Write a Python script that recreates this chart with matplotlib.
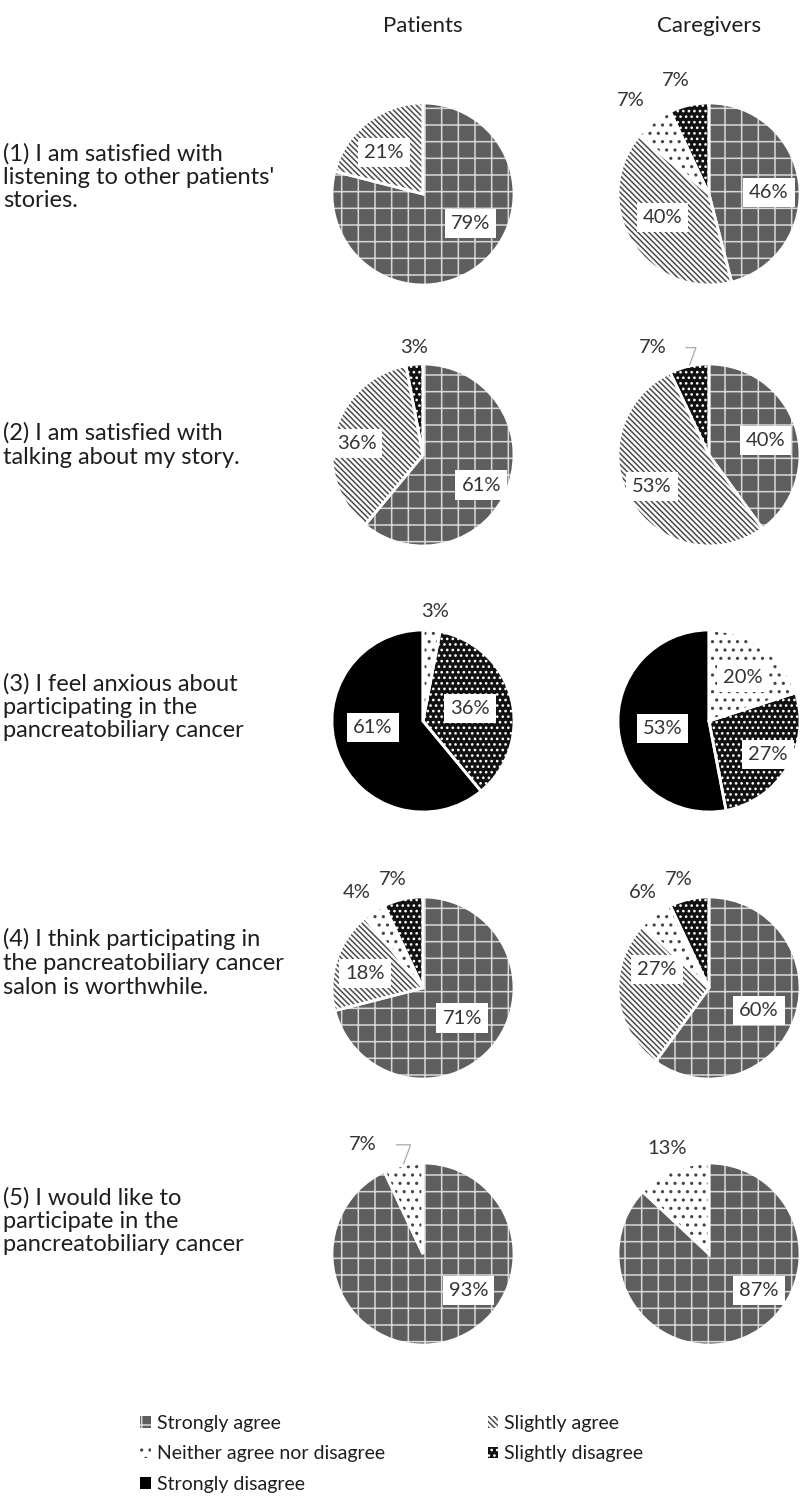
import matplotlib
matplotlib.use("Agg")
import matplotlib.pyplot as plt
import numpy as np
from matplotlib.patches import Patch

plt.rcParams["font.family"] = ["Lato", "DejaVu Sans"]
plt.rcParams["hatch.linewidth"] = 1.1

# survey answers, percent of respondents
categories = ["Strongly agree", "Slightly agree", "Neither agree nor disagree",
              "Slightly disagree", "Strongly disagree"]
questions = [
    "(1) I am satisfied with\nlistening to other patients'\nstories.",
    "(2) I am satisfied with\ntalking about my story.",
    "(3) I feel anxious about\nparticipating in the\npancreatobiliary cancer",
    "(4) I think participating in\nthe pancreatobiliary cancer\nsalon is worthwhile.",
    "(5) I would like to\nparticipate in the\npancreatobiliary cancer",
]
groups = ["Patients", "Caregivers"]
patients = [
    [79, 21, 0, 0, 0],
    [61, 36, 0, 3, 0],
    [0, 0, 3, 36, 61],
    [71, 18, 4, 7, 0],
    [93, 0, 7, 0, 0],
]
caregivers = [
    [46, 40, 7, 7, 0],
    [40, 53, 0, 7, 0],
    [0, 0, 20, 27, 53],
    [60, 27, 6, 7, 0],
    [87, 0, 13, 0, 0],
]

# look of each answer: face colour, hatch, hatch colour
styles = [
    ("#5e5e5e", "+", "#d8d8d8"),
    ("white", "\\\\\\\\\\\\", "#4a4a4a"),
    ("white", "..", "#444444"),
    ("#111111", "...", "white"),
    ("black", "", "black"),
]

# where the percent labels sit, in pie radii from the centre (non-zero slices in order)
label_pos = {
    (0, 0): [(0.52, -0.32), (-0.43, 0.46)],
    (0, 1): [(0.66, 0.02), (-0.51, -0.26), (-0.86, 1.03), (-0.36, 1.25)],
    (1, 0): [(0.64, -0.33), (-0.73, 0.13), (-0.1, 1.18)],
    (1, 1): [(0.62, 0.16), (-0.63, -0.35), (-0.62, 1.18)],
    (2, 0): [(0.13, 1.2), (0.52, 0.14), (-0.55, -0.07)],
    (2, 1): [(0.37, 0.48), (0.65, -0.37), (-0.51, -0.08)],
    (3, 0): [(0.43, -0.33), (-0.64, 0.16), (-0.73, 1.05), (-0.33, 1.19)],
    (3, 1): [(0.55, -0.25), (-0.57, 0.2), (-0.73, 1.05), (-0.33, 1.19)],
    (4, 0): [(0.5, -0.4), (-0.66, 1.2)],
    (4, 1): [(0.55, -0.4), (-0.46, 1.16)],
}
leaders = {(1, 1): 2, (4, 0): 1}

W, H = 801, 1504
R = 91
row_y = [194, 455, 721, 988, 1254]
text_y = [177, 445, 707, 963, 1221]
col_x = [423, 709]
HALF = 140
TXT = "#1e1e1e"

fig = plt.figure(figsize=(W / 100, H / 100), dpi=100)


def add_px_axes(cx, cy, half):
    return fig.add_axes([(cx - half) / W, 1 - (cy + half) / H, 2 * half / W, 2 * half / H])


def draw_pie(ax, values, row, col):
    idx = [i for i, v in enumerate(values) if v > 0]
    vals = [values[i] for i in idx]
    wedges, _ = ax.pie(vals, startangle=90, counterclock=False, radius=1)
    for w, i in zip(wedges, idx):
        face, hatch, hcol = styles[i]
        w.set_facecolor(face)
        w.set_edgecolor(hcol)
        w.set_hatch(hatch)
        w.set_linewidth(0)
    # white separators between slices
    ax.pie(vals, startangle=90, counterclock=False, radius=1,
           wedgeprops=dict(facecolor="none", edgecolor="white", linewidth=2))
    for k, (v, (x, y)) in enumerate(zip(vals, label_pos[(row, col)])):
        txt = f"{v}%"
        if v >= 10:
            ax.text(x, y, txt, ha="center", va="center", fontsize=14.5, color="#333333",
                    bbox=dict(boxstyle="square,pad=0.3", fc="white", ec="none"))
        elif leaders.get((row, col)) == k:
            w = wedges[k]
            mid = np.deg2rad((w.theta1 + w.theta2) / 2)
            ax.annotate(txt, xy=(np.cos(mid), np.sin(mid)), xytext=(x, y),
                        ha="center", va="center", fontsize=14.5, color="#333333",
                        arrowprops=dict(arrowstyle="-", color="#aaaaaa", lw=0.9,
                                        shrinkA=12, shrinkB=1,
                                        connectionstyle="angle,angleA=0,angleB=70,rad=0"))
        else:
            ax.text(x, y, txt, ha="center", va="center", fontsize=14.5, color="#333333")
    lim = HALF / R
    ax.set_xlim(-lim, lim)
    ax.set_ylim(-lim, lim)
    ax.axis("off")


for r, q in enumerate(questions):
    fig.text(3 / W, 1 - text_y[r] / H, q, ha="left", va="center",
             fontsize=17, color=TXT, linespacing=1.15)
    for c, data in enumerate([patients, caregivers]):
        ax = add_px_axes(col_x[c], row_y[r], HALF)
        draw_pie(ax, data[r], r, c)

for c, g in enumerate(groups):
    fig.text(col_x[c] / W, 1 - 26 / H, g, ha="center", va="center",
             fontsize=16, color=TXT)

handles = []
for i, cat in enumerate(categories):
    face, hatch, hcol = styles[i]
    handles.append(Patch(facecolor=face, edgecolor=hcol, hatch=hatch, linewidth=0, label=cat))
order = [0, 2, 4, 1, 3]
fig.legend([handles[i] for i in order], [categories[i] for i in order],
           loc="upper left", bbox_to_anchor=(140 / W, 1 - 1415 / H), ncol=2,
           frameon=False, fontsize=14, handlelength=0.55, handleheight=0.55,
           handletextpad=0.3, columnspacing=5.3, labelspacing=0.69,
           borderaxespad=0, borderpad=0, labelcolor=TXT)

fig.savefig("out.png", dpi=100)
